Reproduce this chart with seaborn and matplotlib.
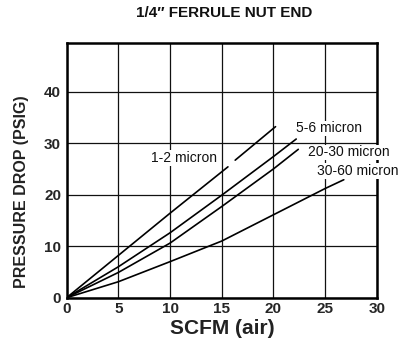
import matplotlib
matplotlib.use("Agg")
import matplotlib.pyplot as plt
import seaborn as sns
import pandas as pd

# ---- data ----
x_12a = [0, 5, 10, 15.6]
y_12a = [0, 8.2, 16.4, 25.4]
x_12b = [16.3, 20.2]
y_12b = [26.7, 33.2]

x_56 = [0, 5, 10, 15, 20, 22.2]
y_56 = [0, 6.0, 12.6, 19.9, 27.4, 30.8]

x_2030 = [0, 5, 10, 15, 20, 22.4]
y_2030 = [0, 4.9, 10.6, 17.7, 25.0, 28.8]

x_3060 = [0, 5, 10, 15, 20, 25, 26.8]
y_3060 = [0, 3.1, 7.0, 11.0, 16.1, 21.2, 22.9]

series_labels = ["1-2 micron", "5-6 micron", "20-30 micron", "30-60 micron"]
label_pos = [(8.2, 27.1), (22.2, 32.9), (23.3, 28.2), (24.2, 24.6)]

xticks = [0, 5, 10, 15, 20, 25, 30]
yticks = [0, 10, 20, 30, 40]

title = "1/4\u2033 FERRULE NUT END"
xlabel = "SCFM (air)"
ylabel = "PRESSURE DROP (PSIG)"

# ---- plot ----
sns.set_style("white")
plt.rcParams['font.family'] = ['Liberation Sans', 'DejaVu Sans']

fig = plt.figure(figsize=(4.11, 3.47), dpi=100)
ax = fig.add_axes([0.162, 0.142, 0.755, 0.735])

segments = [(x_12a, y_12a), (x_12b, y_12b), (x_56, y_56),
            (x_2030, y_2030), (x_3060, y_3060)]
for xs, ys in segments:
    df = pd.DataFrame({"x": xs, "y": ys})
    sns.lineplot(data=df, x="x", y="y", ax=ax, color="black",
                 linewidth=1.2, sort=False, estimator=None, zorder=3)

for lab, (lx, ly) in zip(series_labels, label_pos):
    ax.text(lx, ly, lab, fontsize=10, color="#111111", ha="left", va="center",
            zorder=4, clip_on=False,
            bbox=dict(facecolor="white", edgecolor="none", pad=0.5))

ax.set_xlim(0, 30)
ax.set_ylim(0, 49.5)
ax.set_xticks(xticks)
ax.set_yticks(yticks)
ax.grid(True, color="#111111", linewidth=0.9)
ax.set_axisbelow(True)
for s in ax.spines.values():
    s.set_visible(True)
    s.set_color("black")
    s.set_linewidth(1.8)
ax.tick_params(axis="both", direction="out", length=3, width=1, color="black",
               labelsize=11, pad=1)
ax.tick_params(axis="x", pad=0)
for t in ax.get_xticklabels() + ax.get_yticklabels():
    t.set_fontweight("bold")

ax.set_xlabel("")
ax.set_ylabel("")
fig.text(222 / 411, 1 - 328 / 347, xlabel, fontsize=15, fontweight="bold",
         color="#222222", ha="center", va="center")
fig.text(22 / 411, 1 - 191.5 / 347, ylabel, fontsize=11.5, fontweight="bold",
         color="#222222", ha="center", va="center", rotation=90)
fig.text(224 / 411, 1 - 13 / 347, title, fontsize=11, fontweight="bold",
         ha="center", va="center", color="#111111")

fig.savefig("out.png", dpi=100)
